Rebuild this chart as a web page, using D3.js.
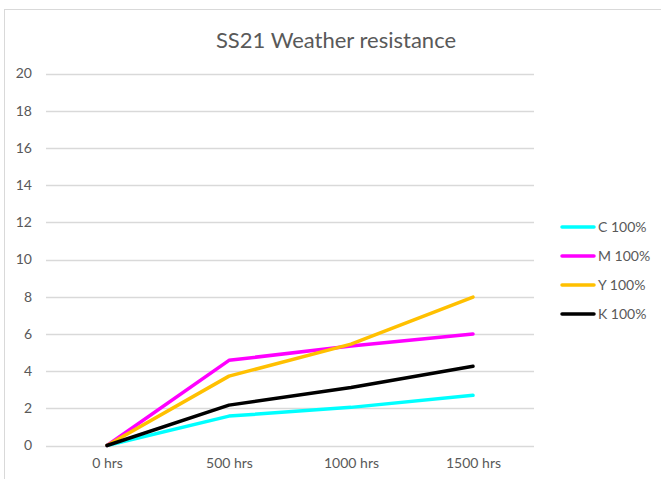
<!DOCTYPE html>
<html><head><meta charset="utf-8">
<script src="https://cdn.jsdelivr.net/npm/d3@7"></script>
<style>body{margin:0;background:#fff}svg{display:block}</style>
</head><body>
<script>
const categories = ["0 hrs", "500 hrs", "1000 hrs", "1500 hrs"];
const seriesNames = ["C 100%", "M 100%", "Y 100%", "K 100%"];
const seriesColors = ["#00FFFF", "#FF00FF", "#FFC000", "#000000"];
const cValues = [0, 1.58, 2.05, 2.7];
const mValues = [0, 4.58, 5.35, 6.0];
const yValues = [0, 3.73, 5.45, 7.98];
const kValues = [0, 2.17, 3.12, 4.26];
const yTicks = [0, 2, 4, 6, 8, 10, 12, 14, 16, 18, 20];
const title = "SS21 Weather resistance";

const series = [cValues, mValues, yValues, kValues];
const W = 661, H = 479;
const font = "Lato, 'Open Sans', sans-serif";
const svg = d3.select("body").append("svg").attr("width", W).attr("height", H);

svg.append("rect").attr("x", 4.5).attr("y", 9.5).attr("width", W + 10).attr("height", H + 10)
  .attr("fill", "#fff").attr("stroke", "#d9d9d9").attr("stroke-width", 1);

svg.append("text").attr("x", 336).attr("y", 48).attr("text-anchor", "middle")
  .attr("font-family", font).attr("font-size", 22).attr("fill", "#595959").text(title);

const x = d3.scalePoint().domain(categories).range([46, 534]).padding(0.5);
const y = d3.scaleLinear().domain([0, 20]).range([445.5, 73.5]);

const grid = svg.append("g");
grid.selectAll("line").data(yTicks).join("line")
  .attr("x1", 46).attr("x2", 534)
  .attr("y1", d => Math.round(y(d)) + 0.5).attr("y2", d => Math.round(y(d)) + 0.5)
  .attr("stroke", "#d9d9d9").attr("stroke-width", 1.3);

const yAxis = svg.append("g").attr("transform", "translate(46,0)")
  .call(d3.axisLeft(y).tickValues(yTicks).tickSize(0).tickPadding(14));
yAxis.select(".domain").remove();
yAxis.selectAll("text").attr("font-family", font).attr("font-size", 14).attr("fill", "#595959");

const xAxis = svg.append("g").attr("transform", "translate(0,452)")
  .call(d3.axisBottom(x).tickSize(0).tickPadding(6));
xAxis.select(".domain").remove();
xAxis.selectAll("text").attr("font-family", font).attr("font-size", 14).attr("fill", "#595959");

const line = d3.line().x((d, i) => x(categories[i])).y(d => y(d));
svg.append("g").selectAll("path").data(series).join("path")
  .attr("d", d => line(d)).attr("fill", "none")
  .attr("stroke", (d, i) => seriesColors[i]).attr("stroke-width", 3.5)
  .attr("stroke-linejoin", "round").attr("stroke-linecap", "round");

const legY = d3.scalePoint().domain(seriesNames).range([227, 314]);
const leg = svg.append("g").selectAll("g").data(seriesNames).join("g")
  .attr("transform", d => `translate(0,${legY(d)})`);
leg.append("line").attr("x1", 562).attr("x2", 594).attr("y1", 0).attr("y2", 0)
  .attr("stroke", (d, i) => seriesColors[i]).attr("stroke-width", 3.5).attr("stroke-linecap", "round");
leg.append("text").attr("x", 598).attr("y", 0).attr("dy", "0.35em")
  .attr("font-family", font).attr("font-size", 14).attr("fill", "#595959").text(d => d);
</script>
</body></html>
